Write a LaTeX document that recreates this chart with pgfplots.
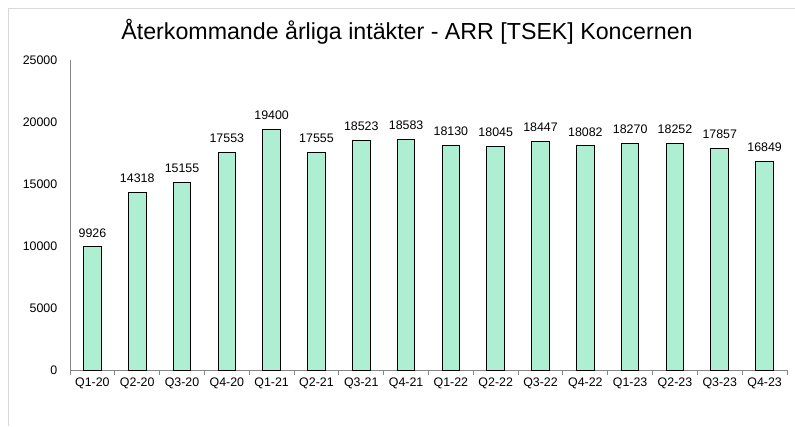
\documentclass[border=0pt]{standalone}
\usepackage{fontspec}
\setmainfont{Liberation Sans}
\usepackage{pgfplots}
\pgfplotsset{compat=1.18}
\definecolor{barfill}{RGB}{174,238,210}
\definecolor{axisgray}{RGB}{134,134,134}
\definecolor{framegray}{RGB}{217,217,217}

% coordinates in pixels of the 795x426 image, y measured upward from the bottom
\begin{document}
\begin{tikzpicture}[x=0.75pt,y=0.75pt]
\path[use as bounding box] (0,0) rectangle (795,426);
\draw[framegray, line width=0.75pt] (8,0) -- (8,417) -- (795,417);
\node[font=\fontsize{17.4}{20}\selectfont] at (407,394) {Återkommande årliga intäkter - ARR [TSEK] Koncernen};
\begin{axis}[
    at={(52.5pt,42pt)}, anchor=south west,
    scale only axis,
    width=537.75pt, height=232.5pt,
    ymin=0, ymax=25000,
    xmin=-0.5, xmax=15.5,
    ytick={0,5000,...,25000},
    xtick={0,...,15},
    xticklabels={Q1-20,Q2-20,Q3-20,Q4-20,Q1-21,Q2-21,Q3-21,Q4-21,Q1-22,Q2-22,Q3-22,Q4-22,Q1-23,Q2-23,Q3-23,Q4-23},
    minor xtick={-0.5,0.5,...,15.5},
    major tick length=0pt,
    minor tick length=3.5pt,
    tick align=outside,
    tick style={axisgray, line width=0.75pt},
    axis x line*=bottom,
    axis y line*=left,
    axis line style={axisgray, line width=0.75pt, -},
    scaled ticks=false,
    /pgf/number format/1000 sep={},
    /pgf/number format/assume math mode=true,
    tick label style={font=\fontsize{9.3}{11}\selectfont},
    yticklabel style={xshift=-6pt},
    xticklabel style={yshift=-2pt},
    ybar,
    bar width=13.2pt,
    nodes near coords,
    every node near coord/.append style={font=\fontsize{9.3}{11}\selectfont, yshift=3.5pt, /pgf/number format/1000 sep={}},
    clip=false,
]
\addplot[fill=barfill, draw=black, line width=0.75pt] coordinates {
(0,9926) (1,14318) (2,15155) (3,17553) (4,19400) (5,17555) (6,18523) (7,18583)
(8,18130) (9,18045) (10,18447) (11,18082) (12,18270) (13,18252) (14,17857) (15,16849)};
\end{axis}
\end{tikzpicture}
\end{document}
